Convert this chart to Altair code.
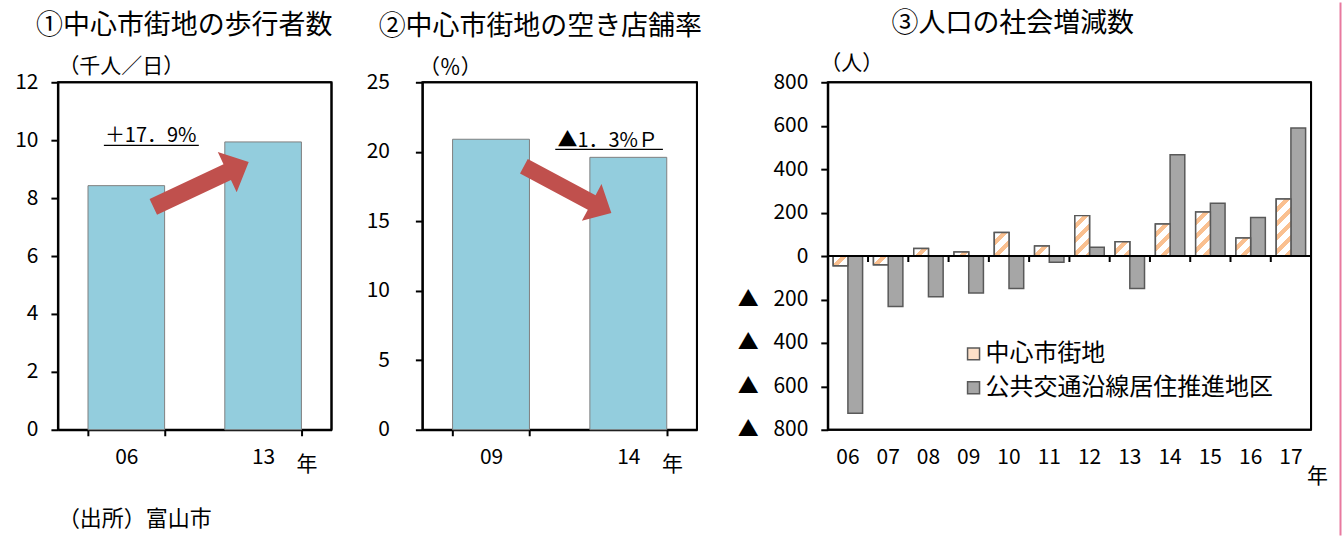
import altair as alt
import pandas as pd

FONT = "Noto Sans CJK JP"

# ---------------- data ----------------
walk_years = ["06", "13"]
walk_values = [8.43, 9.94]          # 千人/日

vac_years = ["09", "14"]
vac_values = [20.9, 19.6]           # %

pop_years = ["06", "07", "08", "09", "10", "11", "12", "13", "14", "15", "16", "17"]
central = [-45, -40, 35, 18, 108, 46, 186, 66, 147, 203, 83, 262]
transit = [-724, -233, -187, -170, -149, -29, 40, -150, 466, 243, 177, 589]
series_names = ["中心市街地", "公共交通沿線居住推進地区"]

titles = ["①中心市街地の歩行者数", "②中心市街地の空き店舗率", "③人口の社会増減数"]
source_note = "（出所）富山市"
walk_note = "＋17．9%"
vac_note = "▲1．3%Ｐ"

# ---------------- layout / style ----------------
H = 348
W1, W2, W3 = 274, 275, 484
BLUE = "#93CDDD"
RED = "#C0504D"
ORANGE = "#FAC090"
GRAY = "#A6A6A6"
ARROW = "M -1 -0.166 L 0.55 -0.166 L 0.55 -0.42 L 1 0 L 0.55 0.42 L 0.55 0.166 L -1 0.166 Z"
FRAME = alt.ViewBackground(stroke="black", strokeWidth=2)

ax_common = dict(labelFont=FONT, labelFontSize=21, labelColor="black",
                 titleFont=FONT, titleFontWeight="normal", titleColor="black",
                 domainColor="black", domainWidth=2, tickColor="black", tickWidth=2, grid=False)


def title_params(text, dx):
    return alt.TitleParams(text, anchor="middle", frame="group", dx=dx, offset=15,
                           font=FONT, fontSize=27, fontWeight="normal", color="black")


def two_bar_panel(years, values, ymax, ystep, unit, unit_dx, unit_dy, lab_pad, width,
                  arrow, arrow_angle, arrow_size, note, note_pos, line_pos, title, tdx):
    df = pd.DataFrame({"year": years, "value": values})
    yscale = alt.Scale(domain=[0, ymax], nice=False)
    bars = alt.Chart(df).mark_bar(fill=BLUE, stroke="#7F7F7F", strokeWidth=1).encode(
        x=alt.X("year:N", sort=None,
                scale=alt.Scale(paddingInner=0.44, paddingOuter=0.22),
                axis=alt.Axis(title="年", titleAngle=0, titleX=width - 25, titleY=35,
                              titleAlign="center", titleBaseline="middle", titleFontSize=21,
                              labelAngle=0, labelPadding=11, tickSize=6, tickBand="extent",
                              **ax_common)),
        y=alt.Y("value:Q", scale=yscale,
                axis=alt.Axis(values=list(range(0, ymax + 1, ystep)), title=unit,
                              titleAngle=0, titleX=unit_dx, titleY=unit_dy, titleAlign="left",
                              titleBaseline="middle", titleFontSize=21,
                              labelPadding=lab_pad, tickSize=7, **ax_common)),
    )
    xq = alt.Scale(domain=[0, 1], nice=False, zero=False)
    arr_df = pd.DataFrame({"ax": [arrow[0]], "ay": [arrow[1]]})
    arr = alt.Chart(arr_df).mark_point(shape=ARROW, filled=True, color=RED, opacity=1,
                                       size=arrow_size, angle=arrow_angle, strokeWidth=0).encode(
        x=alt.X("ax:Q", scale=xq, axis=None), y=alt.Y("ay:Q", scale=yscale))
    note_df = pd.DataFrame({"tx": [note_pos[0]], "ty": [note_pos[1]], "t": [note]})
    txt = alt.Chart(note_df).mark_text(font=FONT, fontSize=20, color="black", baseline="middle").encode(
        x=alt.X("tx:Q", scale=xq, axis=None), y=alt.Y("ty:Q", scale=yscale), text="t:N")
    line_df = pd.DataFrame({"x1": [line_pos[0]], "x2": [line_pos[1]], "y": [line_pos[2]]})
    uline = alt.Chart(line_df).mark_rule(color="black", strokeWidth=1.2).encode(
        x=alt.X("x1:Q", scale=xq, axis=None), x2="x2:Q", y=alt.Y("y:Q", scale=yscale))
    # plot frame (top and right edges)
    fdf = pd.DataFrame({"top": [ymax], "right": [1]})
    ftop = alt.Chart(fdf).mark_rule(color="black", strokeWidth=2).encode(
        y=alt.Y("top:Q", scale=yscale))
    fright = alt.Chart(fdf).mark_rule(color="black", strokeWidth=2).encode(
        x=alt.X("right:Q", scale=xq, axis=None))
    layers = [bars, arr, txt, uline, ftop, fright]
    return alt.layer(*layers).resolve_scale(x="independent").properties(
        width=width, height=H, title=title_params(title, tdx), view=FRAME)


p1_base = two_bar_panel(walk_years, walk_values, 12, 2, "（千人／日）", 0, -16, 13, W1,
                        (0.523, 8.47), 334.8, 11150, walk_note, (0.339, 10.14),
                        (0.168, 0.515, 9.82), titles[0], -10.5)
foot = alt.Chart(pd.DataFrame({"t": [source_note]})).mark_text(
    font=FONT, fontSize=22, color="black", align="left", baseline="middle").encode(
    text="t:N", x=alt.value(0), y=alt.value(437))
p1 = alt.layer(p1_base, foot).properties(view=FRAME)

p2 = two_bar_panel(vac_years, vac_values, 25, 5, "（％）", -4, -15, 26, W2,
                   (0.529, 17.28), 28.1, 9860, vac_note, (0.675, 20.76),
                   (0.484, 0.876, 20.17), titles[1], -19.4)

# ---------------- panel 3 ----------------
pop = pd.DataFrame({
    "year": pop_years * 2,
    "series": [series_names[0]] * len(pop_years) + [series_names[1]] * len(pop_years),
    "value": central + transit,
})
PX_PER_UNIT = H / 1600.0
BAR_W = W3 / 12 * 0.73 / 2
PERIOD, GAP = 14.0, 8.0


def hatch(v):
    h = max(abs(v) * PX_PER_UNIT, 0.5)
    w = BAR_W
    total = w + h
    k = w * (w + h) / (w * w + h * h)
    stops = [{"offset": 0, "color": "white"}]
    s = 0.0
    while s < total:
        o1 = min((s + GAP) / total, 1.0)
        o2 = min((s + PERIOD) / total, 1.0)
        stops += [{"offset": o1, "color": "white"}, {"offset": o1, "color": ORANGE},
                  {"offset": o2, "color": ORANGE}, {"offset": o2, "color": "white"}]
        s += PERIOD
    return {"gradient": "linear", "x1": 0, "y1": 0, "x2": k, "y2": k * h / w, "stops": stops}


xscale3 = alt.Scale(paddingInner=0.27, paddingOuter=0.135)
xoff = alt.XOffset("series:N", sort=series_names,
                   scale=alt.Scale(domain=series_names, paddingInner=0, paddingOuter=0))
yscale3 = alt.Scale(domain=[-800, 800], nice=False)
label_expr = "datum.value < 0 ? '▲\u2002\u2009' + (-datum.value) : datum.label"

base3 = alt.Chart(pop).mark_bar(stroke="#595959", strokeWidth=1.5).encode(
    x=alt.X("year:N", sort=pop_years, scale=xscale3,
            axis=alt.Axis(orient="bottom", domain=False, ticks=False, tickSize=0,
                          labelAngle=0, labelPadding=17, title="年", titleAngle=0,
                          titleX=490, titleY=47, titleAlign="center", titleBaseline="middle",
                          titleFontSize=21, **ax_common)),
    xOffset=xoff,
    y=alt.Y("value:Q", scale=yscale3,
            axis=alt.Axis(values=list(range(-800, 801, 200)), labelExpr=label_expr,
                          title="（人）", titleAngle=0, titleX=-8, titleY=-18.5,
                          titleAlign="left", titleBaseline="middle", titleFontSize=21,
                          labelPadding=13, tickSize=7, **ax_common)),
    fill=alt.Fill("series:N", sort=series_names,
                  scale=alt.Scale(domain=series_names, range=["#FDE0C8", GRAY]),
                  legend=alt.Legend(orient="none", legendX=134, legendY=260, title=None,
                                    symbolType="square", symbolSize=144,
                                    symbolStrokeColor="#595959", symbolStrokeWidth=1.5,
                                    labelFont=FONT, labelFontSize=24, labelColor="black",
                                    labelLimit=600, labelOffset=0, rowPadding=10, padding=0)),
)

fill_cond = {
    "condition": [{"test": f"datum.year === '{yr}'", "value": hatch(v)}
                  for yr, v in zip(pop_years, central)],
    "value": "white",
}
hatch3 = alt.Chart(pop).transform_filter(
    alt.datum.series == series_names[0]).mark_bar(stroke="#595959", strokeWidth=1.5).encode(
    x=alt.X("year:N", sort=pop_years, scale=xscale3, axis=None),
    xOffset=xoff,
    y=alt.Y("value:Q", scale=yscale3),
    fill=fill_cond,
)

# zero line with tick marks at the year boundaries
bscale = alt.Scale(domain=[0, len(pop_years)], nice=False, zero=False)
zero = alt.Chart(pd.DataFrame({"z": [0]})).mark_rule(color="black", strokeWidth=2).encode(
    y=alt.Y("z:Q", scale=yscale3))
TICK_UNITS = 6 / PX_PER_UNIT
tick_df = pd.DataFrame({"b": list(range(1, len(pop_years))), "y0": 0.0, "y1": -TICK_UNITS})
zticks = alt.Chart(tick_df).mark_rule(color="black", strokeWidth=2).encode(
    x=alt.X("b:Q", scale=bscale, axis=None),
    y=alt.Y("y0:Q", scale=yscale3), y2="y1:Q")
# plot frame (top, bottom, right)
f3 = pd.DataFrame({"top": [800], "bot": [-800], "right": [len(pop_years)]})
f3top = alt.Chart(f3).mark_rule(color="black", strokeWidth=2).encode(y=alt.Y("top:Q", scale=yscale3))
f3bot = alt.Chart(f3).mark_rule(color="black", strokeWidth=2).encode(y=alt.Y("bot:Q", scale=yscale3))
f3right = alt.Chart(f3).mark_rule(color="black", strokeWidth=2).encode(
    x=alt.X("right:Q", scale=bscale, axis=None))

p3 = alt.layer(base3, hatch3, zero, zticks, f3top, f3bot, f3right).resolve_scale(
    x="independent").properties(
    width=W3, height=H, title=title_params(titles[2], -56.7), view=FRAME)


def spacer(w):
    return alt.Chart(pd.DataFrame({"a": [0]})).mark_text(text="").properties(
        width=w, height=H, view=alt.ViewBackground(stroke="transparent"))


edge = alt.Chart(pd.DataFrame({"a": [0]})).mark_rule(color="#E8799F", strokeWidth=2).encode(
    x=alt.value(9.5), y=alt.value(-80), y2=alt.value(454)).properties(
    width=10, height=H, view=alt.ViewBackground(stroke="transparent"))

chart = alt.hconcat(p1, spacer(51), p2, spacer(91), p3, edge, spacing=20, bounds="flush"
                    ).resolve_scale(fill="independent").properties(
    padding={"left": 13, "top": 0, "right": 0, "bottom": 0}, background="white"
).configure_view(stroke="black", strokeWidth=2)

chart.save("out.html", embed_options={"renderer": "svg", "actions": False})
